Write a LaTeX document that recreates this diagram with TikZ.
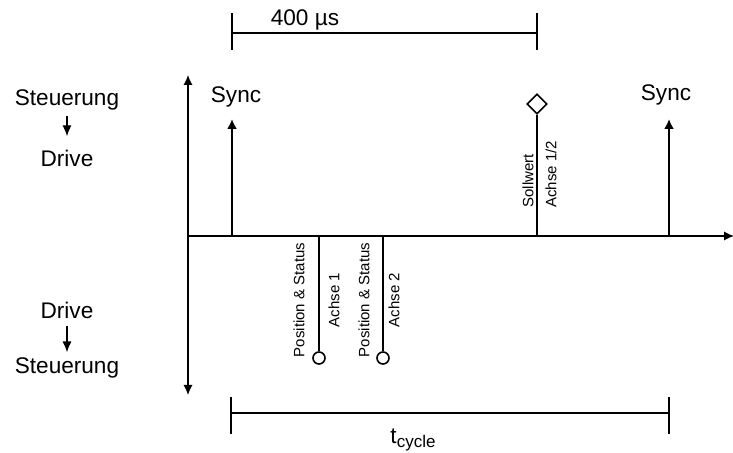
\documentclass[tikz,border=0pt]{standalone}
\usepackage{fontspec}
\setmainfont{Liberation Sans}
\usetikzlibrary{arrows.meta, positioning, shapes.geometric}

\begin{document}
\begin{tikzpicture}[
  x=0.5pt, y=-0.5pt,
  lbl/.style={font=\fontsize{11.3}{13}\selectfont, inner sep=0pt},
  tag/.style={font=\fontsize{7.5}{9}\selectfont, inner sep=0pt, rotate=90},
  axis/.style={line width=0.7pt, {Latex[length=5pt,width=4.6pt]}-{Latex[length=5pt,width=4.6pt]}},
  axisx/.style={line width=0.7pt, -{Latex[length=5pt,width=4.6pt]}},
  sync/.style={line width=1pt, -{Latex[length=5pt,width=5pt]}},
  flow/.style={line width=0.7pt, -{Latex[length=5.5pt,width=4.6pt]}},
  msg/.style={line width=0.8pt},
  dim/.style={line width=0.7pt}
]
  \useasboundingbox (0,0) rectangle (733,453);

  % Direction labels
  \node[lbl] (st1) at (67,100) {Steuerung};
  \node[lbl] (dr1) at (67,158) {Drive};
  \node[lbl] (dr2) at (67,310) {Drive};
  \node[lbl] (st2) at (67,368) {Steuerung};
  \draw[flow, shorten <=2.5pt, shorten >=6.5pt] (st1) -- (dr1);
  \draw[flow, shorten <=3.5pt, shorten >=2.5pt] (dr2) -- (st2);

  % Axes
  \coordinate (o) at (188,236);
  \coordinate (ytop) at (188,75);
  \coordinate (ybot) at (188,395);
  \coordinate (xend) at (734,236);
  \draw[axis] (ybot) -- (ytop);
  \draw[axisx] (o) -- (xend);

  % Sync pulses
  \coordinate (s1) at (232,236);
  \coordinate (s1top) at (232,119);
  \node[lbl] (sync1) at (236,97) {Sync};
  \draw[sync] (s1) -- (s1top);
  \coordinate (s2) at (669,236);
  \coordinate (s2top) at (669,119);
  \node[lbl] (sync2) at (666,95) {Sync};
  \draw[sync] (s2) -- (s2top);

  % Sollwert
  \coordinate (w) at (537,236);
  \node[diamond, draw, line width=0.8pt, inner sep=0pt, minimum size=10pt] (sw) at (537,104) {};
  \draw[msg] (w) -- (sw.south);
  \node[tag, anchor=west] (swa) at (528,208) {Sollwert};
  \node[tag, anchor=west] (swb) at (551,208) {Achse 1/2};

  % Position & Status
  \coordinate (p1) at (319,236);
  \node[circle, draw, line width=0.8pt, inner sep=0pt, minimum size=6pt] (c1) at (319,358) {};
  \draw[msg] (p1) -- (c1.north);
  \node[tag] (p1a) at (299,300) {Position \& Status};
  \node[tag] (p1b) at (334,300) {Achse 1};

  \coordinate (p2) at (383,236);
  \node[circle, draw, line width=0.8pt, inner sep=0pt, minimum size=6pt] (c2) at (383,358) {};
  \draw[msg] (p2) -- (c2.north);
  \node[tag] (p2a) at (364,300) {Position \& Status};
  \node[tag] (p2b) at (394,300) {Achse 2};

  % 400 us
  \coordinate (ua) at (232,33);
  \coordinate (ub) at (537,33);
  \draw[dim] (ua) -- (ub);
  \draw[dim] ([yshift=10pt]ua) -- ([yshift=-8.5pt]ua);
  \draw[dim] ([yshift=10pt]ub) -- ([yshift=-8.5pt]ub);
  \node[lbl] (us) at (305,20) {400 µs};

  % t_cycle
  \coordinate (ta) at (231,413);
  \coordinate (tb) at (669,413);
  \draw[dim] (ta) -- (tb);
  \draw[dim] ([yshift=8pt]ta) -- ([yshift=-10.5pt]ta);
  \draw[dim] ([yshift=8pt]tb) -- ([yshift=-10.5pt]tb);
  \node[lbl] (tc) at (413,440) {t\raisebox{-0.35ex}{\fontsize{8.5}{9}\selectfont cycle}};
\end{tikzpicture}
\end{document}
